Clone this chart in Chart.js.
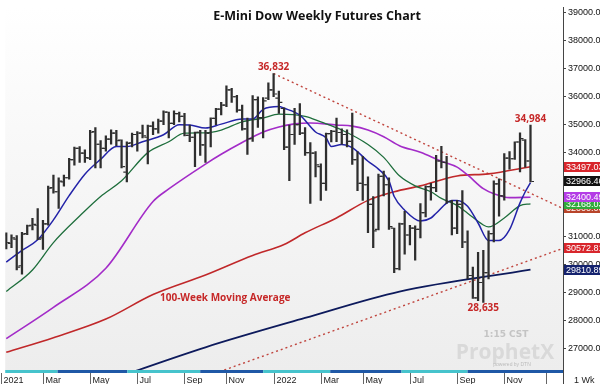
<!DOCTYPE html>
<html>
<head>
<meta charset="utf-8">
<script src="https://cdn.jsdelivr.net/npm/chart.js@4.4.1/dist/chart.umd.min.js"></script>
<style>
  html, body { margin: 0; padding: 0; background: #fff; overflow: hidden; }
  #wrap { position: relative; width: 610px; height: 384px; }
</style>
</head>
<body>
<div id="wrap"><canvas id="c" width="610" height="384"></canvas></div>
<script>
// weekly bars, week 0 = 11 Jan 2021 ... week 100 = 12 Dec 2022
const opens = [31050,30750,30900,29950,31100,31400,31400,30950,31450,32750,
  32600,32950,33100,33750,34150,33980,33800,34750,34300,34150,
  34480,34700,34450,33300,34350,34650,34700,34550,34950,34850,
  35130,35450,35050,35400,35300,34620,34550,34730,34280,34700,
  35230,35560,35700,36250,36000,35520,34850,34500,35900,35250,
  35950,36250,35950,35580,34200,34650,35000,34700,34000,33980,
  33500,32900,34680,34760,34720,34650,34400,33750,32900,32850,
  32150,31250,33150,32850,31300,29850,31450,31050,31300,31250,
  31850,32780,32750,33700,33650,32250,31300,32150,30800,29600,
  28800,29350,29700,31100,32880,32450,33800,33780,34380,34450,
  33700];
const highs = [31130,31060,31030,31150,31410,31650,32000,31580,32800,33200,
  33100,33200,33800,34200,34220,34100,34800,34900,34430,34600,
  34820,34800,34460,34390,34700,34750,34990,34990,35100,35200,
  35500,35450,35500,35450,35410,34990,34740,34800,34800,35250,
  35590,35800,36390,36300,36050,35700,35235,36040,36000,35970,
  36500,36832,36200,35600,34990,35590,35760,34900,34360,34040,
  33600,34700,34800,35240,34850,34820,35420,34040,33870,33130,
  32430,33235,33340,33100,31300,31480,31900,31400,31375,32180,
  32814,32900,33900,34230,33866,32290,32290,32640,31200,29900,
  30430,30500,31200,32990,33058,33970,34040,34390,34709,34463,
  34984];
const lows = [30550,30600,29800,29650,31060,31230,30880,30530,31400,32550,
  32000,32800,33050,33550,33650,33650,33750,33450,33450,34050,
  34300,34250,33450,32950,34200,34050,34530,33600,34640,34700,
  35000,34530,35000,35100,34600,34390,33500,33900,33650,34200,
  35000,35350,35650,35800,35450,34800,33940,34400,34900,34530,
  35900,36000,35400,34110,33000,34290,34640,33900,32180,33130,
  32290,32650,34380,34390,34300,34200,33580,32640,32290,31130,
  30600,31235,32450,31250,29700,29800,30360,30700,30150,30950,
  31700,32300,32600,33450,32182,31050,31100,30600,29480,28780,
  28700,28635,29480,30800,31725,32300,33410,33760,33305,33475,
  32950];
const closes = [30780,30950,29900,31080,31380,31430,30900,31450,32730,32600,
  32980,33100,33750,34150,33980,33820,34730,34300,34150,34480,
  34700,34430,33500,34330,34650,34700,34600,34950,34850,35130,
  35450,35050,35400,35300,34620,34550,34730,34280,34700,35230,
  35560,35700,36250,36000,35520,34850,34500,35900,35250,35850,
  36250,36100,35800,34200,34650,35000,34700,34000,33980,33560,
  32900,34680,34760,34720,34650,34400,33750,32900,32850,32150,
  31200,33150,32850,31350,29850,31450,31050,31300,31250,31850,
  32780,32750,33700,33650,32250,31300,32150,30800,29600,28800,
  29350,29700,31100,32880,32450,33800,33780,34380,34500,33700,
  32966.46];

// moving averages: [week, value]
const ma9 = [[0,30080],[3,30500],[6,30880],[9,31590],[12,32460],[15,33230],[18,33760],
  [21,34220],[23,34220],[26,34390],[30,34640],[33,35000],[35,34990],[38,34880],[41,35020],
  [45,35200],[47,35200],[49,35550],[52,35650],[53,35590],[56,35340],[59,34740],[61,34530],
  [62,34220],[64,34290],[66,34180],[69,33690],[71,33410],[73,32990],[74,32430],[76,31940],
  [79,31550],[81,31660],[82,31830],[85,32290],[86,32290],[88,32080],[90,31480],[92,30850],
  [94,30850],[96,31240],[98,32200],[99,32600],[100,32930]];
const ma18 = [[0,29025],[5,29800],[9,30780],[14,31730],[18,32430],[22,32990],[27,34000],
  [31,34390],[34,34700],[38,34710],[41,34810],[45,35100],[49,35240],[52,35380],[57,35300],
  [60,35100],[64,34810],[69,34290],[72,33830],[75,33170],[78,32810],[81,32600],[83,32360],
  [86,32110],[88,31830],[91,31410],[92,31340],[95,31660],[98,32100],[100,32168.03]];
const ma40 = [[0,27340],[9,28460],[19,29860],[28,32250],[31,32700],[38,33590],[41,33940],
  [45,34360],[49,34740],[52,34920],[55,35030],[58,35060],[63,34990],[66,34950],[69,34810],
  [72,34570],[75,34250],[79,34010],[83,33690],[86,33480],[88,33200],[91,32710],[93,32530],
  [96,32390],[100,32400.49]];
const ma100 = [[0,26850],[9,27375],[19,28040],[28,28920],[38,29620],[47,30320],[53,30710],
  [57,31130],[63,31660],[69,32290],[74,32600],[79,32810],[86,33165],[92,33240],[100,33497.03]];
const ma200 = [[20,25880],[38,27030],[57,28080],[75,29025],[100,29810.89]];
const upperTrend = [[51,36832],[106.2,32000]];
const lowerTrend = [[38,25975],[106.2,30572.81]];

const yTicks = [27000,28000,29000,30000,31000,32000,33000,34000,35000,36000,37000,38000,39000];
const monthWeeks = [-1,7,16,25,34,42,51,60,68,77,86,95,103];
const monthLabels = ['2021','Mar','May','Jul','Sep','Nov','2022','Mar','May','Jul','Sep','Nov',''];
const quarterEdges = [-0.2,9.8,23.1,37,49,61.8,75.4,88,106.2];
const peakLabels = [[51,36832,'36,832',-1],[100,34984,'34,984',-1],[91,28635,'28,635',1]];

const weeks = closes.map((_, i) => i);
const pairs = arr => arr.map(([x, y]) => ({x, y}));
const tickOff = 0.42;
const BAR = '#2e2e2e';

Chart.defaults.font.family = "'Liberation Sans', Arial, sans-serif";

const decor = {
  id: 'decor',
  beforeDraw(chart) {
    const {ctx, chartArea: a} = chart;
    ctx.save();
    ctx.fillStyle = '#fff';
    ctx.fillRect(0, 0, chart.width, chart.height);
    const g = ctx.createLinearGradient(0, a.top, 0, a.bottom);
    g.addColorStop(0, '#ffffff');
    g.addColorStop(1, '#ededed');
    ctx.fillStyle = g;
    ctx.fillRect(a.left, a.top, a.right - a.left, a.bottom - a.top);
    // watermark
    ctx.textAlign = 'center';
    ctx.fillStyle = '#c4c4c4';
    ctx.font = "bold 9px 'DejaVu Sans'";
    ctx.fillText('1:15 CST', 506, 337);
    ctx.fillStyle = '#d9d9d9';
    ctx.font = "bold 21px 'Open Sans'";
    ctx.fillText('ProphetX', 505, 359);
    ctx.font = "5px 'Liberation Sans'";
    ctx.fillStyle = '#bbb';
    ctx.fillText('powered by DTN', 512, 366);
    ctx.restore();
  },
  afterDraw(chart) {
    const {ctx, chartArea: a, scales: {x, y}} = chart;
    ctx.save();
    // title
    ctx.fillStyle = '#111';
    ctx.font = "bold 12.5px 'Open Sans'";
    ctx.textAlign = 'center';
    ctx.textBaseline = 'middle';
    ctx.fillText('E-Mini Dow Weekly Futures Chart', 317, 16);
    // price call-outs
    ctx.fillStyle = '#c62828';
    ctx.font = "bold 10px 'Open Sans'";
    peakLabels.forEach(([w, v, t, dir]) => {
      ctx.fillText(t, x.getPixelForValue(w), y.getPixelForValue(v) + dir * 6);
    });
    ctx.textAlign = 'left';
    ctx.fillText('100-Week Moving Average', 160, 298);

    // value tags on the right
    ctx.font = "9px 'Liberation Sans'";
    ctx.textBaseline = 'middle';
    chart.data.datasets.filter(d => d.tag).sort((p, q) => p.tag.z - q.tag.z).forEach(d => {
      const last = d.data[d.data.length - 1];
      const py = Math.round(y.getPixelForValue(last.y));
      ctx.fillStyle = d.tag.bg;
      ctx.fillRect(a.right + 1, py - 5, 50, 10);
      ctx.fillStyle = d.tag.fg;
      ctx.fillText(last.y.toFixed(2), a.right + 3, py + 0.5);
    });

    // date axis
    const bandTop = a.bottom;
    for (let i = 0; i < quarterEdges.length - 1; i++) {
      const x0 = x.getPixelForValue(quarterEdges[i]);
      const x1 = x.getPixelForValue(quarterEdges[i + 1]);
      ctx.fillStyle = i % 2 ? '#1f58a6' : '#46c3cc';
      ctx.fillRect(x0, bandTop, x1 - x0, 3);
    }
    ctx.strokeStyle = '#666';
    ctx.lineWidth = 1;
    ctx.fillStyle = '#222';
    ctx.font = "9px 'Liberation Sans'";
    ctx.textBaseline = 'alphabetic';
    monthWeeks.forEach((w, i) => {
      const px = Math.round(x.getPixelForValue(w)) + 0.5;
      ctx.beginPath();
      ctx.moveTo(px, bandTop + 3);
      ctx.lineTo(px, chart.height);
      ctx.stroke();
      ctx.fillText(monthLabels[i], px + 2, chart.height - 1);
    });
    ctx.strokeStyle = '#444';
    ctx.beginPath();
    ctx.moveTo(a.right + 0.5, a.bottom);
    ctx.lineTo(a.right + 0.5, chart.height);
    ctx.stroke();
    ctx.fillText('1 Wk', a.right + 11, chart.height - 1);
    ctx.restore();
  }
};

const line = (data, color, width, extra) => Object.assign({
  type: 'line', data: pairs(data), borderColor: color, borderWidth: width,
  pointRadius: 0, cubicInterpolationMode: 'monotone', fill: false
}, extra || {});

new Chart(document.getElementById('c'), {
  type: 'bar',
  data: {
    datasets: [
      { type: 'bar', data: weeks.map(i => ({x: i, y: [lows[i], highs[i]]})),
        backgroundColor: BAR, barThickness: 1.6, borderWidth: 0 },
      { type: 'scatter', data: weeks.map(i => ({x: i - tickOff, y: opens[i]})),
        pointStyle: 'line', pointRadius: 1.3, borderColor: BAR, borderWidth: 1.2 },
      { type: 'scatter', data: weeks.map(i => ({x: i + tickOff, y: closes[i]})),
        pointStyle: 'line', pointRadius: 1.3, borderColor: BAR, borderWidth: 1.2,
        tag: {bg: '#111', fg: '#fff', z: 7} },
      line(ma9, '#2323a8', 1.5),
      line(ma18, '#1e6e3c', 1.3, {tag: {bg: '#2faa3c', fg: '#fff', z: 4}}),
      line(ma40, '#a32cc8', 1.6, {tag: {bg: '#b43ce6', fg: '#fff', z: 5}}),
      line(ma100, '#c0282a', 1.6, {tag: {bg: '#d8262c', fg: '#fff', z: 6}}),
      line(ma200, '#0d1a5c', 1.8, {tag: {bg: '#14226e', fg: '#fff', z: 2}}),
      line(upperTrend, '#c0453e', 1.4, {borderDash: [2, 3], cubicInterpolationMode: 'default',
        tag: {bg: '#b8442a', fg: '#fff', z: 1}}),
      line(lowerTrend, '#c0453e', 1.4, {borderDash: [2, 3], cubicInterpolationMode: 'default',
        tag: {bg: '#d8262c', fg: '#fff', z: 3}})
    ]
  },
  options: {
    responsive: false,
    animation: false,
    devicePixelRatio: 1,
    layout: { padding: { left: 0, top: 0, right: 0, bottom: 14 } },
    plugins: { legend: { display: false }, tooltip: { enabled: false }, title: { display: false } },
    scales: {
      x: { type: 'linear', min: -0.2, max: 106.2, offset: false, display: false },
      y: {
        position: 'right', min: 26217, max: 39200,
        afterBuildTicks: s => { s.ticks = yTicks.map(v => ({value: v})); },
        afterFit: s => { s.width = 47; },
        ticks: { callback: v => Number(v).toFixed(2), color: '#111', font: { size: 9 }, padding: 2 },
        grid: { drawOnChartArea: false, drawTicks: true, tickLength: 3, color: '#444' },
        border: { display: true, color: '#444' }
      }
    }
  },
  plugins: [decor]
});
</script>
</body>
</html>
